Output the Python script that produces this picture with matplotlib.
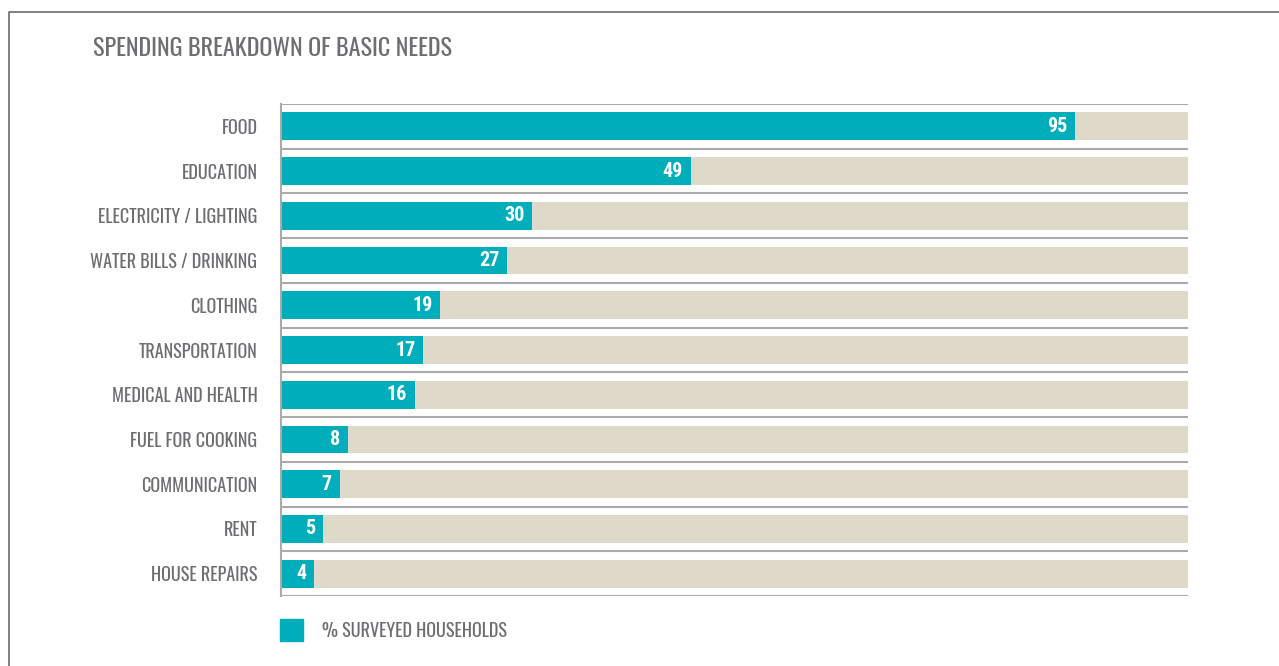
import matplotlib
matplotlib.use('Agg')
import matplotlib.pyplot as plt
from matplotlib.lines import Line2D

categories = ['FOOD', 'EDUCATION', 'ELECTRICITY / LIGHTING', 'WATER BILLS / DRINKING',
              'CLOTHING', 'TRANSPORTATION', 'MEDICAL AND HEALTH', 'FUEL FOR COOKING',
              'COMMUNICATION', 'RENT', 'HOUSE REPAIRS']
values = [95, 49, 30, 27, 19, 17, 16, 8, 7, 5, 4]
full = 108.5

teal = '#00adbb'
beige = '#dfd9c9'
txt = '#6d6e71'
line_c = '#ababab'

plt.rcParams['font.family'] = ['Oswald', 'Roboto Condensed', 'DejaVu Sans']
bold_font = ['Roboto Condensed', 'DejaVu Sans']

fig = plt.figure(figsize=(12.79, 6.66), dpi=100)
ax = fig.add_axes([281 / 1279, 1 - 596 / 666, 907 / 1279, 492 / 666])

n = len(categories)
ys = list(range(n))
ax.barh(ys, [full] * n, height=0.62, color=beige, zorder=1)
ax.barh(ys, values, height=0.62, color=teal, zorder=2)

for y, v in zip(ys, values):
    ax.text(v - 0.9, y, str(v), ha='right', va='center', color='white',
            fontsize=14.5, fontweight='bold', family=bold_font, zorder=3)

# separators between rows
for b in range(n + 1):
    ax.axhline(b - 0.5, color=line_c, lw=1.5, zorder=0)

ax.set_xlim(0, full)
ax.set_ylim(n - 0.5, -0.5)
ax.set_yticks(ys)
ax.set_yticklabels(categories, fontsize=13, color=txt)
ax.tick_params(axis='y', length=0, pad=17)
ax.set_xticks([])
for s in ['top', 'right', 'bottom']:
    ax.spines[s].set_visible(False)
ax.spines['left'].set_color(line_c)
ax.spines['left'].set_linewidth(1.5)

fig.text(93 / 1279, 1 - 48 / 666, 'SPENDING BREAKDOWN OF BASIC NEEDS', fontsize=17.4,
         color=txt, va='center', ha='left')

# legend
fig.patches.append(plt.Rectangle((280 / 1279, 1 - 641 / 666), 23 / 1279, 22 / 666,
                                 transform=fig.transFigure, color=teal))
fig.text(322 / 1279, 1 - 631 / 666, '% SURVEYED HOUSEHOLDS', fontsize=13, color=txt,
         va='center', ha='left')

# outer frame
fig.lines.append(Line2D([9 / 1279, 9 / 1279, 1], [0, 1 - 12 / 666, 1 - 12 / 666],
                        transform=fig.transFigure, color='#6b6b6b', lw=1.2))

fig.savefig('out.png', dpi=100)
